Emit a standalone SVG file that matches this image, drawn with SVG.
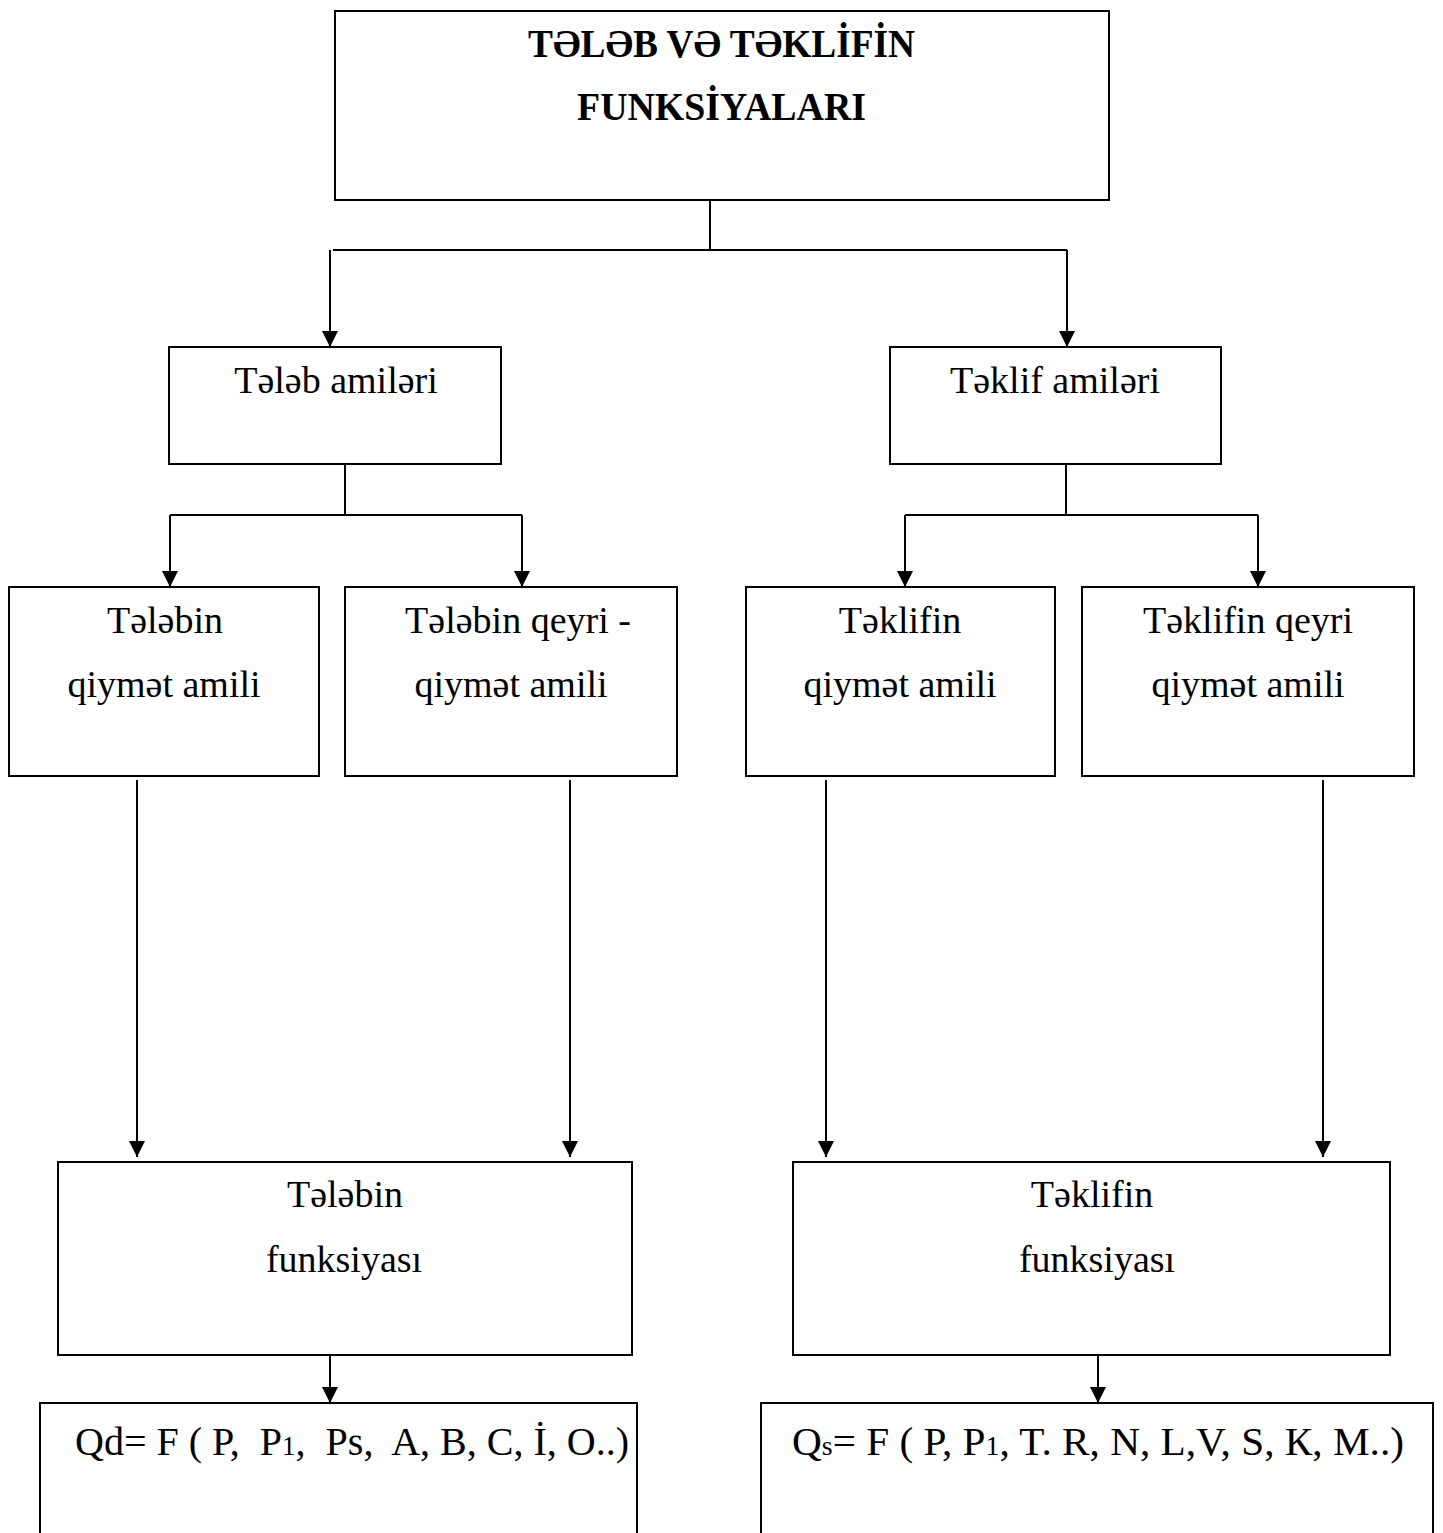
<svg xmlns="http://www.w3.org/2000/svg" width="1443" height="1533" viewBox="0 0 1443 1533">
<defs>
<style>
.box{fill:#fff;stroke:#000;stroke-width:2}
.t{font-family:"Liberation Serif","DejaVu Serif",serif;font-size:38px;fill:#000;text-anchor:middle}
.title{font-family:"Liberation Serif","DejaVu Serif",serif;font-size:40px;font-weight:bold;fill:#000}
.f{font-family:"Liberation Serif","DejaVu Serif",serif;font-size:40px;fill:#000;white-space:pre}
.sm{font-size:27px}
.c{fill:none;stroke:#000;stroke-width:2}
</style>
<marker id="ah" viewBox="0 0 16 16" refX="16" refY="8" markerWidth="16" markerHeight="16" markerUnits="userSpaceOnUse" orient="auto">
<path d="M0,0 L16,8 L0,16 Z" fill="#000"/>
</marker>
</defs>
<rect width="1443" height="1533" fill="#fff"/>
<g id="connectors">
<path class="c" d="M710,200 V250 M333,250 H1067"/>
<line class="c" x1="330" y1="250" x2="330" y2="347" marker-end="url(#ah)"/>
<line class="c" x1="1067" y1="250" x2="1067" y2="347" marker-end="url(#ah)"/>
<path class="c" d="M345,464 V515 M170,515 H522"/>
<line class="c" x1="170" y1="515" x2="170" y2="587" marker-end="url(#ah)"/>
<line class="c" x1="522" y1="515" x2="522" y2="587" marker-end="url(#ah)"/>
<path class="c" d="M1066,464 V515 M905,515 H1258"/>
<line class="c" x1="905" y1="515" x2="905" y2="587" marker-end="url(#ah)"/>
<line class="c" x1="1258" y1="515" x2="1258" y2="587" marker-end="url(#ah)"/>
<line class="c" x1="137" y1="780" x2="137" y2="1157" marker-end="url(#ah)"/>
<line class="c" x1="570" y1="780" x2="570" y2="1157" marker-end="url(#ah)"/>
<line class="c" x1="826" y1="780" x2="826" y2="1157" marker-end="url(#ah)"/>
<line class="c" x1="1323" y1="780" x2="1323" y2="1157" marker-end="url(#ah)"/>
<line class="c" x1="330" y1="1355" x2="330" y2="1403" marker-end="url(#ah)"/>
<line class="c" x1="1098" y1="1355" x2="1098" y2="1403" marker-end="url(#ah)"/>
</g>
<g id="title">
<rect class="box" x="335" y="11" width="774" height="189"/>
<text class="title" x="528" y="57" textLength="387" lengthAdjust="spacingAndGlyphs">TƏLƏB VƏ TƏKLİFİN</text>
<text class="title" x="577" y="120" textLength="289" lengthAdjust="spacingAndGlyphs">FUNKSİYALARI</text>
</g>
<g id="telab-amilleri">
<rect class="box" x="169" y="347" width="332" height="117"/>
<text class="t" x="336" y="393">Tələb amiləri</text>
</g>
<g id="teklif-amilleri">
<rect class="box" x="890" y="347" width="331" height="117"/>
<text class="t" x="1055" y="393">Təklif amiləri</text>
</g>
<g id="telabin-qiymet">
<rect class="box" x="9" y="587" width="310" height="189"/>
<text class="t" x="165" y="633">Tələbin</text>
<text class="t" x="164" y="697">qiymət amili</text>
</g>
<g id="telabin-qeyri">
<rect class="box" x="345" y="587" width="332" height="189"/>
<text class="t" x="518" y="633">Tələbin qeyri -</text>
<text class="t" x="511" y="697">qiymət amili</text>
</g>
<g id="teklifin-qiymet">
<rect class="box" x="746" y="587" width="309" height="189"/>
<text class="t" x="900" y="633">Təklifin</text>
<text class="t" x="900" y="697">qiymət amili</text>
</g>
<g id="teklifin-qeyri">
<rect class="box" x="1082" y="587" width="332" height="189"/>
<text class="t" x="1248" y="633">Təklifin qeyri</text>
<text class="t" x="1248" y="697">qiymət amili</text>
</g>
<g id="telabin-funksiyasi">
<rect class="box" x="58" y="1162" width="574" height="193"/>
<text class="t" x="345" y="1207">Tələbin</text>
<text class="t" x="344" y="1272">funksiyası</text>
</g>
<g id="teklifin-funksiyasi">
<rect class="box" x="793" y="1162" width="597" height="193"/>
<text class="t" x="1092" y="1207">Təklifin</text>
<text class="t" x="1097" y="1272">funksiyası</text>
</g>
<g id="qd-formula">
<rect class="box" x="40" y="1403" width="597" height="140"/>
<text class="f" x="75" y="1455">Qd= F ( P,  P<tspan class="sm">1</tspan>,  Ps,  A, B, C, İ, O..)</text>
</g>
<g id="qs-formula">
<rect class="box" x="761" y="1403" width="672" height="140"/>
<text class="f" x="792" y="1455" textLength="612" lengthAdjust="spacingAndGlyphs">Q<tspan class="sm">s</tspan>= F ( P, P<tspan class="sm">1</tspan>, T. R, N, L,V, S, К, M..)</text>
</g>
</svg>
